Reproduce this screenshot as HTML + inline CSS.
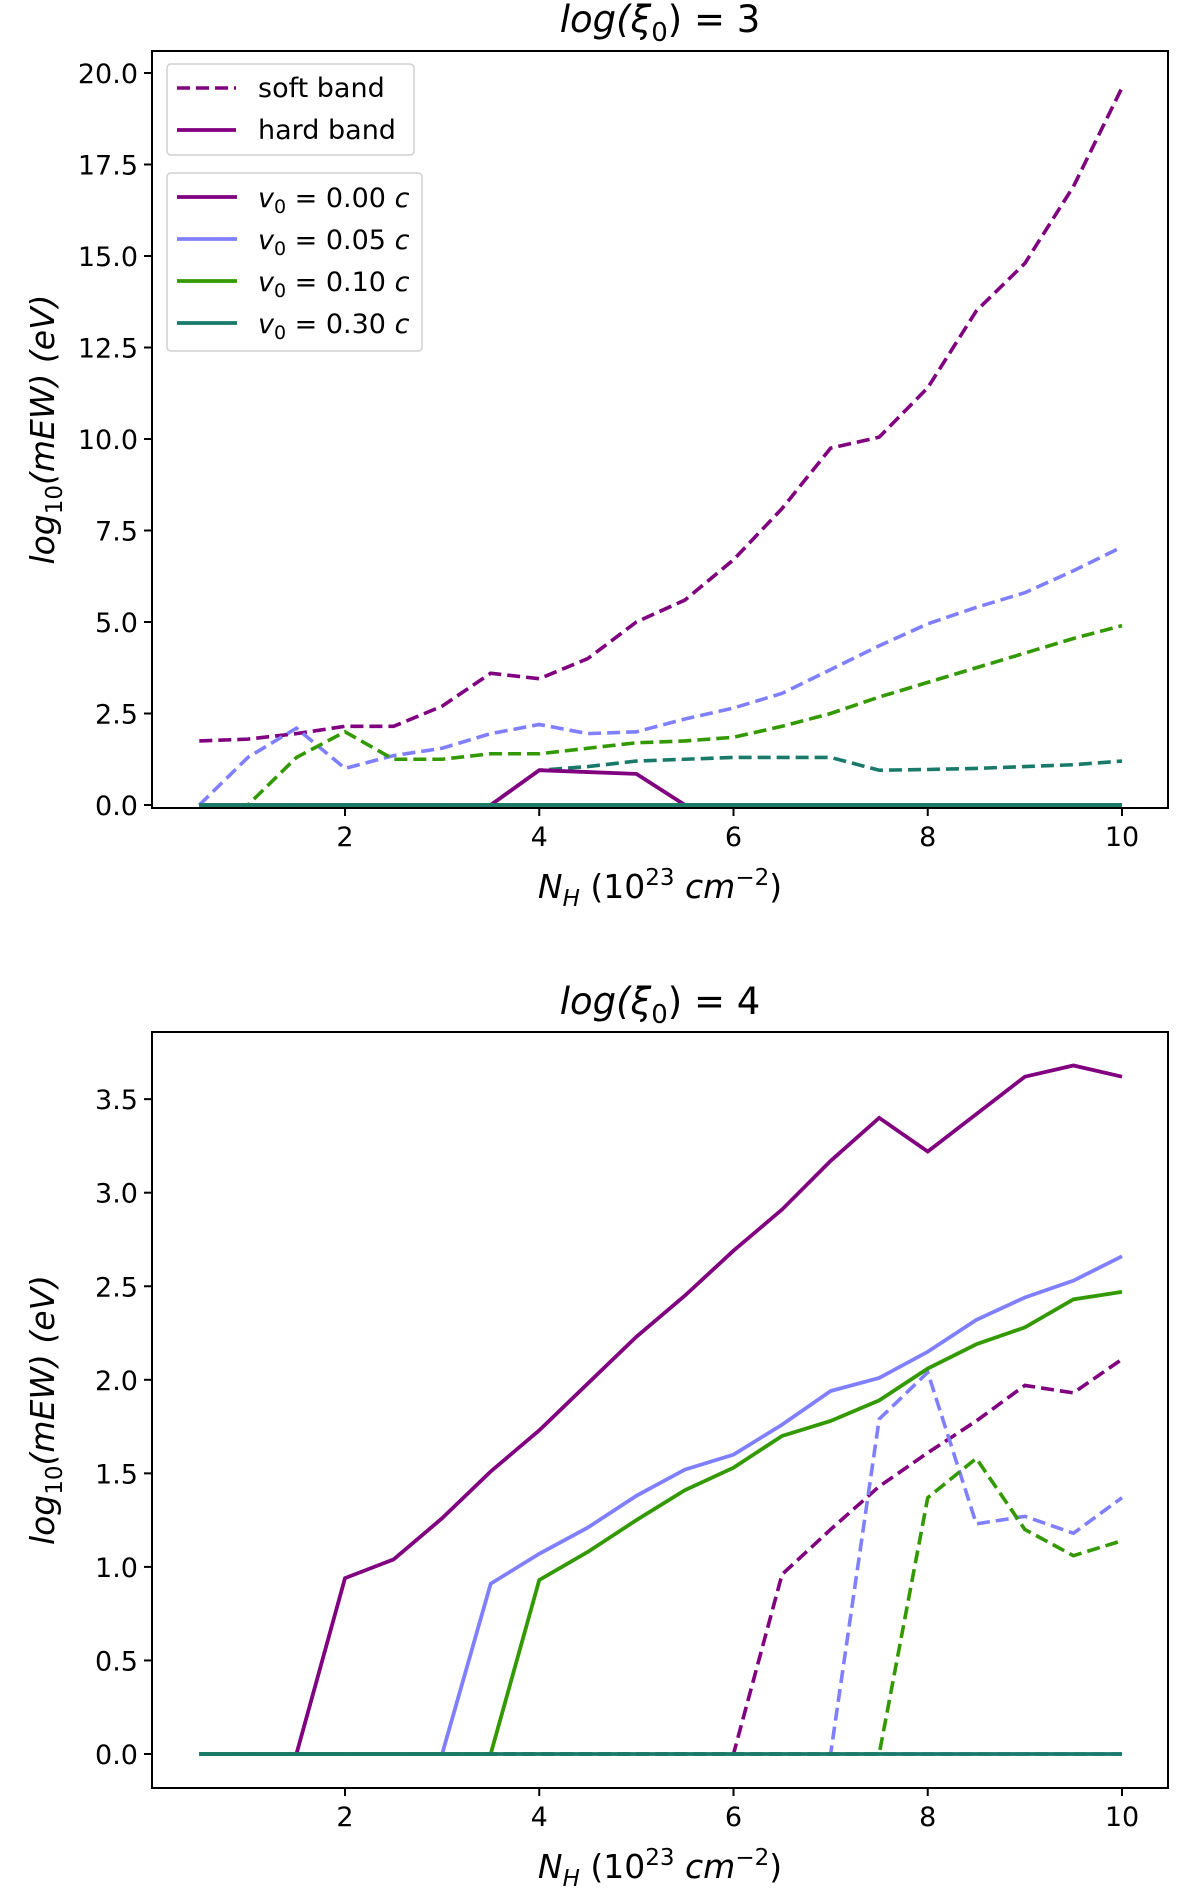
<!DOCTYPE html>
<html><head><meta charset="utf-8"><style>
html,body{margin:0;padding:0;background:#fff;}
svg{display:block;font-family:"DejaVu Sans","Liberation Sans",sans-serif;}
</style></head><body>
<svg id="fig" width="1200" height="1896" viewBox="0 0 1200 1896" xmlns="http://www.w3.org/2000/svg"></svg>
<script>
const nh = [0.5,1,1.5,2,2.5,3,3.5,4,4.5,5,5.5,6,6.5,7,7.5,8,8.5,9,9.5,10];
const xTicks = [2,4,6,8,10];
// top panel log(xi0)=3
const topSoft000 = [1.75,1.8,1.95,2.15,2.15,2.7,3.6,3.45,4.0,5.0,5.6,6.7,8.1,9.75,10.05,11.4,13.5,14.8,16.9,19.6];
const topSoft005 = [0,1.3,2.1,1.0,1.35,1.55,1.95,2.2,1.95,2.0,2.35,2.65,3.05,3.7,4.35,4.95,5.4,5.8,6.4,7.05];
const topSoft010 = [0,0,1.3,2.0,1.25,1.25,1.4,1.4,1.55,1.7,1.75,1.85,2.15,2.5,2.95,3.35,3.75,4.15,4.55,4.9];
const topSoft030 = [0,0,0,0,0,0,0,0.95,1.05,1.2,1.25,1.3,1.3,1.3,0.95,0.97,1.0,1.05,1.1,1.2];
const topHard000 = [0,0,0,0,0,0,0,0.95,0.9,0.85,0,0,0,0,0,0,0,0,0,0];
const topHard005 = [0,0,0,0,0,0,0,0,0,0,0,0,0,0,0,0,0,0,0,0];
const topHard010 = [0,0,0,0,0,0,0,0,0,0,0,0,0,0,0,0,0,0,0,0];
const topHard030 = [0,0,0,0,0,0,0,0,0,0,0,0,0,0,0,0,0,0,0,0];
const topYTicks = [0,2.5,5,7.5,10,12.5,15,17.5,20];
const topYLabels = ["0.0","2.5","5.0","7.5","10.0","12.5","15.0","17.5","20.0"];
// bottom panel log(xi0)=4
const botSoft000 = [0,0,0,0,0,0,0,0,0,0,0,0,0.96,1.20,1.43,1.61,1.78,1.97,1.93,2.11];
const botSoft005 = [0,0,0,0,0,0,0,0,0,0,0,0,0,0,1.79,2.04,1.23,1.27,1.18,1.37];
const botSoft010 = [0,0,0,0,0,0,0,0,0,0,0,0,0,0,0,1.37,1.58,1.20,1.06,1.14];
const botSoft030 = [0,0,0,0,0,0,0,0,0,0,0,0,0,0,0,0,0,0,0,0];
const botHard000 = [0,0,0,0.94,1.04,1.26,1.51,1.73,1.98,2.23,2.45,2.69,2.91,3.17,3.40,3.22,3.42,3.62,3.68,3.62];
const botHard005 = [0,0,0,0,0,0,0.91,1.07,1.21,1.38,1.52,1.60,1.76,1.94,2.01,2.15,2.32,2.44,2.53,2.66];
const botHard010 = [0,0,0,0,0,0,0,0.93,1.08,1.25,1.41,1.53,1.70,1.78,1.89,2.06,2.19,2.28,2.43,2.47];
const botHard030 = [0,0,0,0,0,0,0,0,0,0,0,0,0,0,0,0,0,0,0,0];
const botYTicks = [0,0.5,1,1.5,2,2.5,3,3.5];
const botYLabels = ["0.0","0.5","1.0","1.5","2.0","2.5","3.0","3.5"];
const colors = ["#800080","#8080ff","#339900","#1a7a6a"];
const vLabels = ["0.00","0.05","0.10","0.30"];

const NS="http://www.w3.org/2000/svg";
const svg=document.getElementById('fig');
function mk(tag,attrs,parent){const e=document.createElementNS(NS,tag);for(const k in attrs)e.setAttribute(k,attrs[k]);(parent||svg).appendChild(e);return e;}

function panel(o){
  const g=mk('g',{});
  
  
  const X=v=>o.x0+(v-2)*(o.x1-o.x0)/8;
  const Y=v=>o.y0-v*o.ys;
  const t=mk('text',{x:660,y:o.titleY,'text-anchor':'middle','font-size':37,'font-style':'italic'},g);
  
  
  t.innerHTML='log(ξ<tspan font-size="26" dy="9" font-style="normal">0</tspan><tspan dy="-9" font-style="normal">) = '+o.xi+'</tspan>';
  const soft=o.soft, hard=o.hard;
  for(let i=0;i<4;i++){
    const p=mk('polyline',{points:nh.map((v,j)=>X(v)+','+Y(soft[i][j])).join(' '),fill:'none',stroke:colors[i],'stroke-width':3.6,'stroke-dasharray':'13,6'},g);
    
    
  }
  for(let i=0;i<4;i++){
    const p=mk('polyline',{points:nh.map((v,j)=>X(v)+','+Y(hard[i][j])).join(' '),fill:'none',stroke:colors[i],'stroke-width':3.8},g);
    
    
  }
  const box=mk('rect',{x:o.bx0,y:o.by0,width:o.bx1-o.bx0,height:o.by1-o.by0,fill:'none',stroke:'#000','stroke-width':2},g);
  
  
  xTicks.forEach(v=>{
    mk('line',{x1:X(v),x2:X(v),y1:o.by1,y2:o.by1+8,stroke:'#000','stroke-width':2},g);
    const l=mk('text',{x:X(v),y:o.by1+38,'text-anchor':'middle','font-size':27},g);
    
    
    l.textContent=v;
  });
  o.yt.forEach((v,i)=>{
    mk('line',{x1:o.bx0-8,x2:o.bx0,y1:Y(v),y2:Y(v),stroke:'#000','stroke-width':2},g);
    const l=mk('text',{x:o.bx0-14,y:Y(v)+10,'text-anchor':'end','font-size':27},g);
    
    
    l.textContent=o.yl[i];
  });
  const xl=mk('text',{x:660,y:o.by1+90,'text-anchor':'middle','font-size':33},g);
  
  
  xl.innerHTML='<tspan font-style="italic">N<tspan font-size="23" dy="8">H</tspan></tspan><tspan dy="-8"> (10</tspan><tspan font-size="23" dy="-13">23</tspan><tspan dy="13" font-style="italic"> cm</tspan><tspan font-size="23" dy="-13">−2</tspan><tspan dy="13">)</tspan>';
  const yc=(o.by0+o.by1)/2;
  const yl=mk('text',{x:0,y:0,'text-anchor':'middle','font-size':33,transform:'translate(54,'+yc+') rotate(-90)'},g);
  
  
  yl.innerHTML='<tspan font-style="italic">log</tspan><tspan font-size="23" dy="8">10</tspan><tspan dy="-8" font-style="italic">(mEW)</tspan><tspan font-style="italic"> (eV)</tspan>';
  return g;
}

panel({name:'panel-log-xi-3',xi:3,titleY:32,x0:345,x1:1122,y0:805,ys:36.6,bx0:152,bx1:1168,by0:51,by1:808,
  yt:topYTicks,yl:topYLabels,
  soft:[topSoft000,topSoft005,topSoft010,topSoft030],hard:[topHard000,topHard005,topHard010,topHard030]});
panel({name:'panel-log-xi-4',xi:4,titleY:1014,x0:345,x1:1122,y0:1754,ys:187.1,bx0:152,bx1:1168,by0:1032,by1:1788,
  yt:botYTicks,yl:botYLabels,
  soft:[botSoft000,botSoft005,botSoft010,botSoft030],hard:[botHard000,botHard005,botHard010,botHard030]});

const lg1=mk('g',{});


mk('rect',{x:167,y:64,width:247,height:91,rx:4,fill:'#fff','fill-opacity':0.85,stroke:'#d0d0d0','stroke-width':1.5},lg1);
mk('line',{x1:177,x2:236,y1:88,y2:88,stroke:'#800080','stroke-width':3.6,'stroke-dasharray':'13,6'},lg1);
mk('line',{x1:177,x2:236,y1:130,y2:130,stroke:'#800080','stroke-width':3.8},lg1);
const s1=mk('text',{x:258,y:97,'font-size':27},lg1);


s1.textContent='soft band';
const s2=mk('text',{x:258,y:139,'font-size':27},lg1);


s2.textContent='hard band';

const lg2=mk('g',{});


mk('rect',{x:167,y:173,width:255,height:178,rx:4,fill:'#fff','fill-opacity':0.85,stroke:'#d0d0d0','stroke-width':1.5},lg2);
const ly=[197,239,281,323];
for(let i=0;i<4;i++){
  mk('line',{x1:177,x2:237,y1:ly[i],y2:ly[i],stroke:colors[i],'stroke-width':3.8},lg2);
  const t=mk('text',{x:258,y:ly[i]+10,'font-size':27},lg2);
  
  
  t.innerHTML='<tspan font-style="italic">v</tspan><tspan font-size="19" dy="6">0</tspan><tspan dy="-6"> = '+vLabels[i]+' </tspan><tspan font-style="italic">c</tspan>';
}
</script>
</body></html>
